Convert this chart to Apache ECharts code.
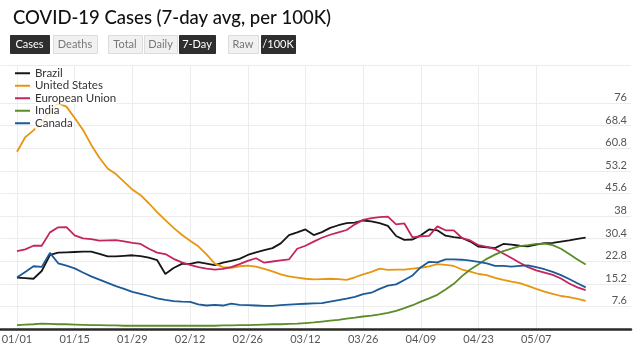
<!DOCTYPE html>
<html>
<head>
<meta charset="utf-8">
<script src="https://cdn.jsdelivr.net/npm/echarts@6/dist/echarts.min.js"></script>
<style>
  html, body { margin: 0; padding: 0; background: #fff; }
  #chart { width: 642px; height: 351px; }
</style>
</head>
<body>
<div id="chart"></div>
<script>
// 数据 (7-day avg cases per 100K, sampled every 2 days from 01/01 to 05/19)
var seriesNames = ['Brazil', 'United States', 'European Union', 'India', 'Canada']
var seriesColors = ['#161616', '#e8950f', '#c4255f', '#5b8c28', '#1d5a96']

var brazil = [17.3, 17.1, 16.9, 19.5, 24.9, 25.7, 25.8, 25.9, 26.0, 26.0,
  25.3, 24.4, 24.4, 24.6, 24.8, 24.5, 24.0, 23.2, 18.5, 20.5,
  21.9, 21.9, 22.5, 22.0, 21.5, 22.3, 22.9, 23.6, 24.9, 25.8,
  26.5, 27.2, 28.8, 31.6, 32.5, 33.5, 31.6, 32.6, 34.0, 34.9,
  35.6, 35.8, 36.5, 36.2, 35.6, 34.7, 31.3, 30.0, 30.1, 31.5,
  33.5, 33.2, 31.4, 30.9, 30.6, 29.4, 27.7, 27.5, 27.2, 28.6,
  28.4, 28.0, 27.8, 28.4, 28.9, 29.0, 29.4, 29.8, 30.3, 30.7]

var unitedStates = [59.6, 64.5, 66.8, 69.5, 73.0, 75.9, 74.8, 71.0, 67.0, 62.0,
  57.6, 54.0, 52.1, 49.5, 46.9, 45.0, 42.3, 39.3, 36.6, 34.0,
  31.7, 29.7, 27.8, 25.1, 22.0, 20.8, 20.6, 21.1, 21.3, 21.0,
  20.2, 19.4, 18.4, 17.7, 17.3, 16.9, 16.7, 16.8, 16.9, 16.8,
  16.5, 17.4, 18.4, 19.2, 20.3, 19.9, 20.0, 20.0, 20.3, 20.6,
  21.1, 21.8, 21.6, 21.2, 20.0, 19.3, 18.5, 18.1, 17.2, 16.5,
  15.9, 15.4, 14.5, 13.5, 12.6, 11.8, 11.1, 10.7, 10.1, 9.5]

var europeanUnion = [26.2, 26.8, 28.0, 28.0, 32.5, 34.2, 34.3, 31.5, 30.5, 30.2,
  29.7, 29.8, 29.9, 29.5, 29.0, 28.6, 27.0, 25.7, 25.2, 23.6,
  22.4, 21.6, 20.8, 20.3, 20.0, 20.2, 20.8, 21.8, 22.9, 23.8,
  22.3, 22.7, 23.1, 23.4, 27.0, 28.0, 29.4, 30.7, 31.7, 32.5,
  33.3, 35.2, 36.7, 37.3, 37.6, 37.8, 35.2, 35.5, 30.8, 31.2,
  31.3, 34.5, 33.2, 33.2, 30.6, 29.8, 28.2, 27.6, 26.9, 25.4,
  23.9, 22.3, 20.8, 19.7, 19.0, 18.2, 17.0, 15.3, 14.0, 13.1]

var india = [1.3, 1.5, 1.6, 1.8, 1.7, 1.6, 1.6, 1.5, 1.4, 1.3,
  1.3, 1.2, 1.2, 1.1, 1.1, 1.1, 1.1, 1.1, 1.1, 1.1,
  1.1, 1.1, 1.1, 1.1, 1.1, 1.2, 1.2, 1.3, 1.3, 1.4,
  1.5, 1.6, 1.6, 1.7, 1.8, 2.0, 2.2, 2.5, 2.8, 3.1,
  3.5, 3.8, 4.2, 4.5, 4.9, 5.4, 6.1, 7.0, 8.0, 9.2,
  10.3, 11.5, 13.3, 15.2, 17.8, 20.0, 21.8, 23.6, 25.0, 26.2,
  27.0, 27.9, 28.2, 28.6, 28.7, 28.2, 27.0, 25.2, 23.4, 21.7]

var canada = [17.3, 19.2, 21.1, 20.9, 25.6, 22.1, 21.3, 20.4, 19.0, 17.7,
  16.6, 15.5, 14.4, 13.5, 12.5, 11.8, 11.1, 10.3, 9.8, 9.4,
  9.2, 9.1, 8.3, 7.9, 8.1, 7.9, 8.5, 8.1, 8.0, 7.9,
  7.8, 7.8, 8.0, 8.2, 8.4, 8.5, 8.6, 8.7, 9.2, 9.7,
  10.2, 10.8, 11.7, 12.2, 13.5, 14.6, 15.0, 16.5, 18.0, 20.8,
  22.6, 22.4, 23.4, 23.4, 23.3, 23.0, 22.6, 22.1, 21.2, 21.2,
  21.0, 21.2, 21.4, 20.8, 20.1, 19.2, 18.1, 16.8, 15.4, 14.0]

var yTickStep = 7.6
var labelEvery = 14 // days between x labels
var lastLabelDay = 126 // 05/07

var DAY = 86400000
var axisStart = Date.UTC(2020, 11, 28) // a few days of margin before 01/01
var jan1 = Date.UTC(2021, 0, 1)
var axisDays = 154
function fmt(t) {
  var d = new Date(t)
  var m = d.getUTCMonth() + 1, dd = d.getUTCDate()
  return (m < 10 ? '0' : '') + m + '/' + (dd < 10 ? '0' : '') + dd
}
var categories = []
for (var i = 0; i < axisDays; i++) categories.push(fmt(axisStart + i * DAY))
var sampleDates = brazil.map(function (_, i) { return fmt(jan1 + 2 * i * DAY) })

var offset = Math.round((jan1 - axisStart) / DAY)
function isLabelIdx(idx) {
  var d = idx - offset
  return d >= 0 && d <= lastLabelDay && d % labelEvery === 0
}

var allValues = [brazil, unitedStates, europeanUnion, india, canada]

var chart = echarts.init(document.getElementById('chart'))

var buttons = [
  { t: 'Cases', x: 10, w: 39, on: true },
  { t: 'Deaths', x: 53, w: 44 },
  { t: 'Total', x: 108, w: 34 },
  { t: 'Daily', x: 144, w: 33 },
  { t: '7-Day', x: 179, w: 36, on: true },
  { t: 'Raw', x: 228, w: 30 },
  { t: '/100K', x: 261, w: 34, on: true }
]
var graphics = []
buttons.forEach(function (b) {
  graphics.push({
    type: 'rect', left: b.x, top: 35,
    shape: { width: b.w, height: 18 },
    style: { fill: b.on ? '#2e2e2e' : '#f1f1f1', stroke: b.on ? '#2e2e2e' : '#dcdcdc', lineWidth: 1 }
  })
  graphics.push({
    type: 'text', x: b.x + b.w / 2, y: 44,
    style: { text: b.t, fill: b.on ? '#fff' : '#777', font: '11px Lato', align: 'center', verticalAlign: 'middle' }
  })
})

var option = {
  animation: false,
  textStyle: { fontFamily: 'Lato' },
  title: {
    text: 'COVID-19 Cases (7-day avg, per 100K)',
    left: 8, top: 4,
    textStyle: { fontSize: 18.5, fontWeight: 500, color: '#111', fontFamily: 'Lato' }
  },
  graphic: graphics,
  legend: {
    orient: 'vertical',
    left: 10, top: 62,
    itemWidth: 15, itemHeight: 2, itemGap: 0,
    icon: 'rect',
    textStyle: {
      fontSize: 11.5, color: '#333', lineHeight: 12.5, padding: [0, 0, 0, 0],
      backgroundColor: 'rgba(255,255,255,0.85)'
    },
    data: seriesNames
  },
  grid: { left: 0.5, right: 11, top: 65, bottom: 22, containLabel: false, outerBoundsMode: 'none' },
  xAxis: {
    type: 'category',
    data: categories,
    boundaryGap: false,
    name: '2021',
    nameLocation: 'middle',
    nameGap: 20,
    nameTextStyle: { fontSize: 11, color: '#555' },
    axisLine: { lineStyle: { color: '#2a2a2a', width: 2.5 } },
    axisTick: { show: false },
    axisLabel: {
      interval: function (idx) { return isLabelIdx(idx) },
      color: '#555', fontSize: 11, margin: 5
    },
    splitLine: {
      show: true,
      interval: function (idx) { return isLabelIdx(idx) },
      lineStyle: { color: '#ececec', width: 1 }
    }
  },
  yAxis: {
    type: 'value',
    position: 'right',
    min: 0, max: 88.8, interval: yTickStep,
    axisLine: { show: false },
    axisTick: { show: false },
    axisLabel: {
      inside: true, margin: 4, verticalAlign: 'bottom',
      showMinLabel: false, showMaxLabel: false,
      color: '#555', fontSize: 11,
      formatter: function (v) {
        if (v > 76.5) return ''
        return String(parseFloat(v.toFixed(1)))
      }
    },
    splitLine: {
      lineStyle: {
        color: ['#ececec', '#ececec', '#ececec', '#ececec', '#ececec', '#ececec',
          '#ececec', '#ececec', '#ececec', '#ececec', '#ececec', 'rgba(0,0,0,0)', '#ececec']
      }
    }
  },
  series: seriesNames.map(function (name, k) {
    return {
      name: name,
      type: 'line',
      showSymbol: false,
      symbol: 'none',
      clip: false,
      color: seriesColors[k],
      lineStyle: { width: 1.8, color: seriesColors[k] },
      data: sampleDates.map(function (d, i) { return [d, allValues[k][i]] })
    }
  })
}

chart.setOption(option)
</script>
</body>
</html>
